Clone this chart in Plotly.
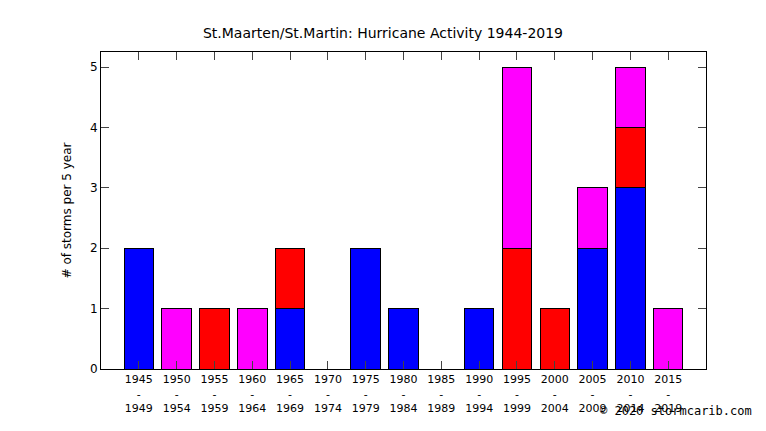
import plotly.graph_objects as go

periods = ["1945<br>-<br>1949","1950<br>-<br>1954","1955<br>-<br>1959","1960<br>-<br>1964","1965<br>-<br>1969",
           "1970<br>-<br>1974","1975<br>-<br>1979","1980<br>-<br>1984","1985<br>-<br>1989","1990<br>-<br>1994",
           "1995<br>-<br>1999","2000<br>-<br>2004","2005<br>-<br>2009","2010<br>-<br>2014","2015<br>-<br>2019"]
blue = [2,0,0,0,1,0,2,1,0,1,0,0,2,3,0]
red = [0,0,1,0,1,0,0,0,0,0,2,1,0,1,0]
magenta = [0,1,0,1,0,0,0,0,0,0,3,0,1,1,1]

x = list(range(len(periods)))
fig = go.Figure()
for vals, col in [(blue, "#0000ff"), (red, "#ff0000"), (magenta, "#ff00ff")]:
    fig.add_trace(go.Bar(x=x, y=vals, marker=dict(color=col, line=dict(color="black", width=1)),
                         width=0.78, showlegend=False))
fig.update_layout(
    barmode="stack", width=750, height=419, plot_bgcolor="white", paper_bgcolor="white",
    margin=dict(l=93, r=52, t=44, b=52),
    font=dict(family="DejaVu Sans", size=12, color="black"),
    title=dict(text="St.Maarten/St.Martin: Hurricane Activity 1944-2019", x=0.5, xanchor="center",
               y=1 - 25 / 419, yanchor="middle", font=dict(size=14)),
    xaxis=dict(range=[-1, 15], tickvals=x, ticktext=periods, ticks="inside", ticklen=8,
               showline=True, linecolor="black", mirror="ticks", showgrid=False, zeroline=False,
               tickfont=dict(size=11)),
    yaxis=dict(range=[0, 5.25], dtick=1, ticks="inside", ticklen=8, showline=True, linecolor="black",
               mirror="ticks", showgrid=False, zeroline=False,
               title=dict(text="# of storms per 5 year", font=dict(size=12))),
    annotations=[dict(text="© 2020 stormcarib.com", xref="paper", yref="paper", x=1.08, y=-52 / 323,
                      xanchor="right", yanchor="bottom", showarrow=False,
                      font=dict(family="DejaVu Sans Mono", size=12))],
)
fig.write_html("out.html")
